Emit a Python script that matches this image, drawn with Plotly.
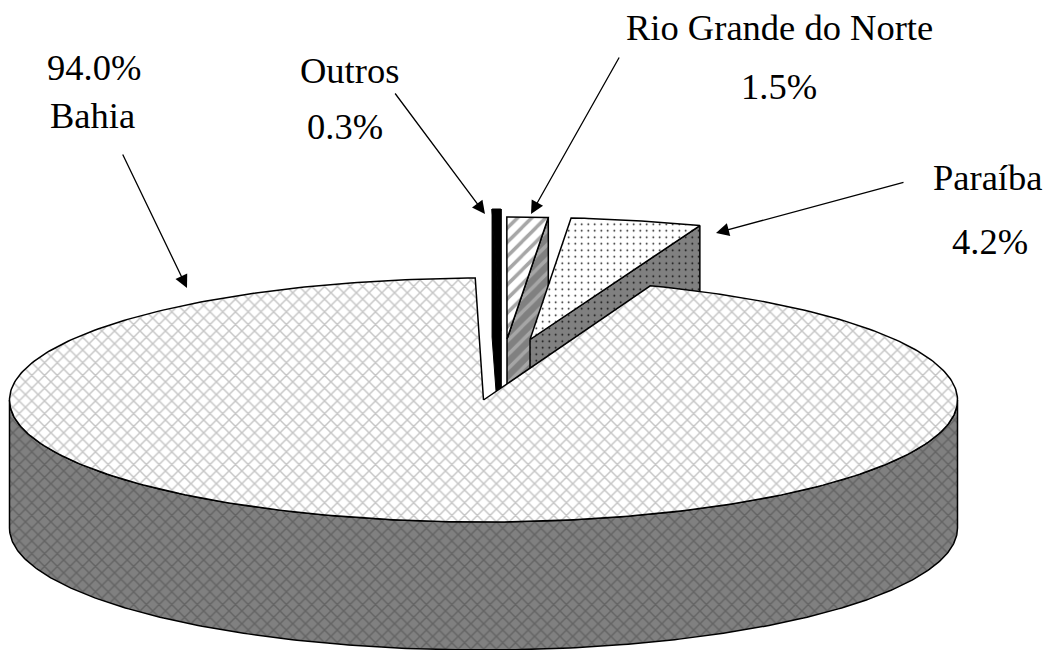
import numpy as np
import plotly.graph_objects as go

# Data
categories = ["Bahia", "Paraíba", "Rio Grande do Norte", "Outros"]
shares = [94.0, 4.2, 1.5, 0.3]

# Pie projection (pixels of the 1048x650 page)
CX, CY, RX, RY, DEPTH = 483.5, 400, 474, 122, 128
BAHIA_START = 91.0           # ellipse angle where the main slice begins (counter-clockwise)
EXPLODE = {"Bahia": (0, 0), "Paraíba": (46.5, -60.5), "Rio Grande do Norte": (23.5, -61), "Outros": (17.5, -69)}
SLICE_START = {"Paraíba": 69.0, "Rio Grande do Norte": 85.0, "Outros": 90.0}
SPAN_SCALE = {"Paraíba": 1.06, "Rio Grande do Norte": 0.93}
BLACK = "#000000"

share = dict(zip(categories, shares))


def angles(name):
    span = share[name] * 3.6 * SPAN_SCALE.get(name, 1.0)
    start = BAHIA_START if name == "Bahia" else SLICE_START[name]
    return start, start + span


def pt(name, t, drop=0.0):
    ox, oy = EXPLODE[name]
    r = np.radians(t)
    return CX + ox + RX * np.cos(r), CY + oy - RY * np.sin(r) + drop


def apex(name, drop=0.0):
    ox, oy = EXPLODE[name]
    return CX + ox, CY + oy + drop


def top_poly(name):
    a, b = angles(name)
    ts = np.linspace(a, b, 400 if name == "Bahia" else 40)
    xs, ys = pt(name, ts)
    ax, ay = apex(name)
    return [ax, *xs, ax], [ay, *ys, ay]


def face_poly(name, t):
    ax, ay = apex(name)
    ex, ey = pt(name, t)
    return [ax, ex, ex, ax, ax], [ay, ey, ey + DEPTH, ay + DEPTH, ay]


def rim_poly(name, a, b):
    ts = np.linspace(a, b, 300)
    xs, ys = pt(name, ts)
    xb, yb = pt(name, ts[::-1], DEPTH)
    return [*xs, *xb, xs[0]], [*ys, *yb, ys[0]]


fig = go.Figure()


def add(poly, fg, bg, shape, size, solidity, lw=1.5):
    x, y = poly
    pattern = dict(shape=shape, fgcolor=fg, bgcolor=bg, size=size, solidity=solidity, fillmode="replace")
    fig.add_trace(go.Scatter(
        x=x, y=y, mode="lines", fill="toself", fillcolor=bg, fillpattern=pattern,
        line=dict(color=BLACK, width=lw), hoverinfo="skip", showlegend=False))


def add_solid(poly, color, lw=1.0):
    x, y = poly
    fig.add_trace(go.Scatter(
        x=x, y=y, mode="lines", fill="toself", fillcolor=color,
        line=dict(color=BLACK, width=lw), hoverinfo="skip", showlegend=False))


# Main slice wall
add(rim_poly("Bahia", 180, 360), "#646464", "#808080", "x", 9, 0.3)

# Exploded slices, back to front
n = "Rio Grande do Norte"
a, b = angles(n)
add(face_poly(n, a), "#a6a6a6", "#808080", "/", 10, 0.35)
add(top_poly(n), "#a6a6a6", "#ffffff", "/", 10, 0.35)

n = "Paraíba"
a, b = angles(n)
add(face_poly(n, a), "#000000", "#808080", ".", 6.5, 0.05)
add(top_poly(n), "#000000", "#ffffff", ".", 6.5, 0.05)

n = "Outros"
a, b = angles(n)
add_solid(face_poly(n, b), BLACK)
add_solid(face_poly(n, a), BLACK)
add_solid(top_poly(n), BLACK)

# Main slice top, hides the lower parts of the exploded slices
add(top_poly("Bahia"), "#c6c6c6", "#ffffff", "x", 9, 0.3)

FONT = dict(family="Liberation Serif", size=36.5, color=BLACK)
label_text = {
    "Bahia": [(f"{share['Bahia']:.1f}%", 94, 67), ("Bahia", 92, 115)],
    "Outros": [("Outros", 349, 70), (f"{share['Outros']:.1f}%", 345, 126)],
    "Rio Grande do Norte": [("Rio Grande do Norte", 779, 27), (f"{share['Rio Grande do Norte']:.1f}%", 779, 86)],
    "Paraíba": [("Paraíba", 987, 177), (f"{share['Paraíba']:.1f}%", 990, 241)],
}
annotations = []
for c in categories:
    for text, x, y in label_text[c]:
        annotations.append(dict(x=x, y=y, text=text, showarrow=False, font=FONT,
                                xanchor="center", yanchor="middle"))

leaders = {
    "Bahia": (122, 153, 187, 288),
    "Outros": (394, 92, 485, 214),
    "Rio Grande do Norte": (620, 56, 531, 214),
    "Paraíba": (905, 182, 716, 233),
}
for c in categories:
    x0, y0, x1, y1 = leaders[c]
    annotations.append(dict(x=x1, y=y1, ax=x0, ay=y0, xref="x", yref="y", axref="x", ayref="y",
                            text="", showarrow=True, arrowhead=2, arrowsize=2.0, arrowwidth=1.3,
                            arrowcolor=BLACK))

fig.update_layout(
    width=1048, height=650, margin=dict(l=0, r=0, t=0, b=0),
    paper_bgcolor="#ffffff", plot_bgcolor="#ffffff", showlegend=False,
    xaxis=dict(range=[0, 1048], visible=False, fixedrange=True),
    yaxis=dict(range=[650, 0], visible=False, fixedrange=True),
    annotations=annotations,
)
fig.write_html("out.html", post_script="document.body.style.margin='0';document.body.style.overflow='hidden';",
               config={"displayModeBar": False})
